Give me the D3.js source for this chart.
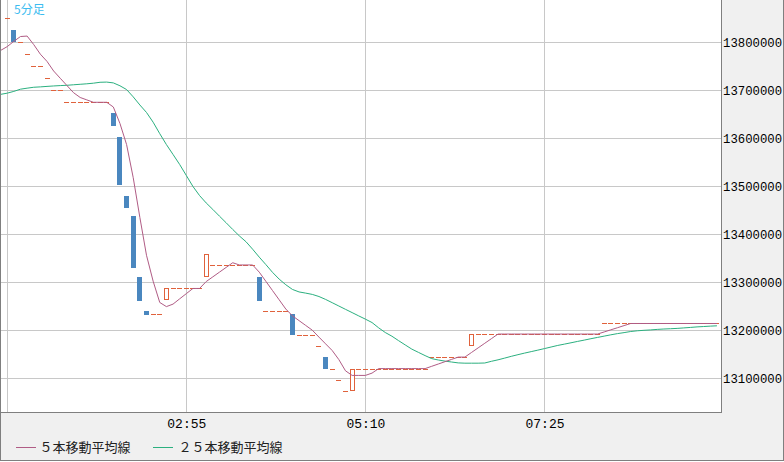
<!DOCTYPE html>
<html><head><meta charset="utf-8">
<script src="https://cdn.jsdelivr.net/npm/d3@7"></script>
<style>html,body{margin:0;padding:0;background:#fff;} svg{display:block;}</style>
</head><body><svg id="chart" width="784" height="462"></svg>
<script>
// ---------- data ----------
const titleText = "5分足";
const startTime = "00:40";      // time of first candle
const stepMinutes = 5;
const maStartTime = "00:35";    // moving averages start one bar earlier
const timeTicks = ["00:40", "02:55", "05:10", "07:25"];
const timeLabels = ["02:55", "05:10", "07:25"];
const priceTicks = [13100000, 13200000, 13300000, 13400000, 13500000, 13600000, 13700000, 13800000];
const legendLabels = ["５本移動平均線", "２５本移動平均線"];

const opens = [
13850000,13826000,13800000,13776000,13750000,13750000,13725000,13700000,13700000,13675000,
13675000,13675000,13675000,13675000,13675000,13675000,13652000,13603000,13479000,13438000,
13311000,13240000,13233000,13233000,13262000,13287000,13287000,13287000,13287000,13287000,
13310000,13336000,13336000,13336000,13336000,13336000,13336000,13336000,13311000,13240000,
13240000,13240000,13240000,13234000,13190000,13190000,13190000,13168000,13144000,13120000,
13096000,13073000,13073000,13120000,13120000,13120000,13120000,13120000,13120000,13120000,
13120000,13120000,13120000,13120000,13144000,13144000,13144000,13144000,13144000,13144000,
13168000,13192000,13192000,13192000,13192000,13192000,13192000,13192000,13192000,13192000,
13192000,13192000,13192000,13192000,13192000,13192000,13192000,13192000,13192000,13192000,
13214000,13214000,13214000,13214000,13214000,13214000,13214000,13214000,13214000,13214000,
13214000,13214000,13214000,13214000,13214000,13214000,13214000,13214000];

const closes = [
13850000,13800000,13800000,13776000,13750000,13750000,13725000,13700000,13700000,13675000,
13675000,13675000,13675000,13675000,13675000,13675000,13626000,13503000,13455000,13330000,
13261000,13232000,13233000,13233000,13287000,13287000,13287000,13287000,13287000,13287000,
13359000,13336000,13336000,13336000,13336000,13336000,13336000,13336000,13261000,13240000,
13240000,13240000,13240000,13190000,13190000,13190000,13190000,13168000,13120000,13120000,
13096000,13073000,13120000,13120000,13120000,13120000,13120000,13120000,13120000,13120000,
13120000,13120000,13120000,13120000,13144000,13144000,13144000,13144000,13144000,13144000,
13192000,13192000,13192000,13192000,13192000,13192000,13192000,13192000,13192000,13192000,
13192000,13192000,13192000,13192000,13192000,13192000,13192000,13192000,13192000,13192000,
13214000,13214000,13214000,13214000,13214000,13214000,13214000,13214000,13214000,13214000,
13214000,13214000,13214000,13214000,13214000,13214000,13214000,13214000];

const ma5 = [
13783000,13791000,13802000,13812000,13813000,13795200,13775200,13760200,13740200,13725000,
13710000,13695000,13685000,13680000,13675000,13675000,13675000,13665200,13630800,13586800,
13517800,13435000,13356200,13302200,13257800,13249200,13254400,13265400,13276200,13287000,
13287000,13301400,13311200,13321000,13330800,13340600,13336000,13336000,13336000,13321000,
13301800,13282600,13263400,13244200,13230000,13220000,13210000,13200000,13185600,13171600,
13157600,13138800,13115400,13105800,13105800,13105800,13110600,13120000,13120000,13120000,
13120000,13120000,13120000,13120000,13120000,13124800,13129600,13134400,13139200,13144000,
13144000,13153600,13163200,13172800,13182400,13192000,13192000,13192000,13192000,13192000,
13192000,13192000,13192000,13192000,13192000,13192000,13192000,13192000,13192000,13192000,
13192000,13196400,13200800,13205200,13209600,13214000,13214000,13214000,13214000,13214000,
13214000,13214000,13214000,13214000,13214000,13214000,13214000,13214000,13214000];

const ma25 = [
13691500,13694000,13697700,13702300,13704400,13706300,13707100,13708100,13709000,13709800,
13710400,13711500,13712500,13713500,13714800,13716700,13717100,13715400,13709400,13701500,
13686300,13669400,13653800,13633500,13609600,13586900,13566300,13545400,13522500,13499600,
13480600,13465200,13451700,13437700,13424000,13410000,13396500,13384400,13368800,13352300,
13336700,13320600,13306500,13294800,13285000,13279800,13277300,13274600,13270200,13264200,
13257300,13250400,13243500,13236700,13229800,13223100,13216000,13205000,13195200,13187500,
13178300,13169400,13160600,13153800,13147100,13140800,13137900,13135600,13133700,13131900,
13131300,13131300,13131300,13131700,13135200,13138300,13141900,13145600,13149000,13152300,
13155400,13158500,13161700,13165000,13168300,13171000,13173800,13176700,13179400,13182300,
13185000,13187700,13190400,13192900,13195000,13197300,13198800,13199800,13200600,13201700,
13202500,13203100,13203800,13204800,13205800,13206900,13207700,13208500,13209200];

// ---------- layout / style ----------
const W = 784, H = 462;
const plotW = 721, plotH = 412;
const col = {
  grid: "#c8c8c8", border: "#7f7f7f", panel: "#f0f0f0",
  bear: "#4a87bf", bull: "#e0623c", ma5: "#b05c85", ma25: "#2bb07f", title: "#3cbcf0"
};

const parseHM = d3.timeParse("%H:%M");
const parseHMS = d3.timeParse("%H:%M:%S");
const barTime = i => d3.timeMinute.offset(parseHM(startTime), i * stepMinutes);
const maTime = k => d3.timeMinute.offset(parseHM(maStartTime), k * stepMinutes);

const x = d3.scaleTime()
  .domain([parseHMS("00:34:34"), parseHMS("09:38:04")])
  .range([0, plotW]);
const y = d3.scaleLinear()
  .domain([13100000, 13800000])
  .range([378.2, 42.3]);

const svg = d3.select("#chart");
svg.append("rect").attr("width", W).attr("height", H).attr("fill", "#fff");

// panels
svg.append("rect").attr("x", plotW + 1).attr("y", 0).attr("width", W - plotW - 1).attr("height", plotH + 1).attr("fill", col.panel);
svg.append("rect").attr("x", 0).attr("y", plotH + 1).attr("width", W).attr("height", 460 - plotH - 1).attr("fill", col.panel);

svg.append("defs").append("clipPath").attr("id", "clip")
  .append("rect").attr("x", 1).attr("y", 0).attr("width", plotW - 1).attr("height", plotH);

// grid
const grid = svg.append("g");
grid.selectAll("line.h").data(priceTicks).join("line").attr("class", "h")
  .attr("x1", 0).attr("x2", plotW)
  .attr("y1", d => Math.round(y(d)) + 0.5).attr("y2", d => Math.round(y(d)) + 0.5)
  .attr("stroke", col.grid).attr("stroke-width", 1);
grid.selectAll("line.v").data(timeTicks).join("line").attr("class", "v")
  .attr("y1", 0).attr("y2", plotH)
  .attr("x1", d => Math.round(x(parseHM(d))) + 0.5).attr("x2", d => Math.round(x(parseHM(d))) + 0.5)
  .attr("stroke", col.grid).attr("stroke-width", 1);

// candles
const bars = opens.map((o, i) => ({ o, c: closes[i], t: barTime(i) }));
const cg = svg.append("g").attr("clip-path", "url(#clip)");
const left = d => Math.round(x(d.t) - 2.5);

cg.selectAll("line.doji").data(bars.filter(d => d.o === d.c)).join("line").attr("class", "doji")
  .attr("x1", left).attr("x2", d => left(d) + 5)
  .attr("y1", d => Math.round(y(d.c)) + 0.5).attr("y2", d => Math.round(y(d.c)) + 0.5)
  .attr("stroke", col.bull).attr("stroke-width", 1);

cg.selectAll("rect.bear").data(bars.filter(d => d.c < d.o)).join("rect").attr("class", "bear")
  .attr("x", left).attr("width", 5)
  .attr("y", d => Math.round(y(d.o)))
  .attr("height", d => Math.max(1, Math.round(y(d.c)) - Math.round(y(d.o))))
  .attr("fill", col.bear);

cg.selectAll("rect.bull").data(bars.filter(d => d.c > d.o)).join("rect").attr("class", "bull")
  .attr("x", d => left(d) + 0.5).attr("width", 4)
  .attr("y", d => Math.round(y(d.c)) + 0.5)
  .attr("height", d => Math.max(1, Math.round(y(d.o)) - Math.round(y(d.c)) - 1))
  .attr("fill", "#fff").attr("stroke", col.bull).attr("stroke-width", 1);

// moving averages
const line = d3.line().x((d, k) => x(maTime(k))).y(d => y(d));
cg.append("path").datum(ma25).attr("d", line).attr("fill", "none").attr("stroke", col.ma25).attr("stroke-width", 1);
cg.append("path").datum(ma5).attr("d", line).attr("fill", "none").attr("stroke", col.ma5).attr("stroke-width", 1);

// borders
const bd = svg.append("g").attr("stroke", col.border).attr("stroke-width", 1);
bd.append("line").attr("x1", plotW + 0.5).attr("x2", plotW + 0.5).attr("y1", 0).attr("y2", plotH + 1);
bd.append("line").attr("x1", 0).attr("x2", plotW + 1).attr("y1", plotH + 0.5).attr("y2", plotH + 0.5);
bd.append("line").attr("x1", 0.5).attr("x2", 0.5).attr("y1", 0).attr("y2", 461);
bd.append("line").attr("x1", W - 0.5).attr("x2", W - 0.5).attr("y1", 0).attr("y2", 461);
bd.append("line").attr("x1", 0).attr("x2", W).attr("y1", 460.5).attr("y2", 460.5);

// axes
const axisFont = "'Liberation Mono', 'DejaVu Sans Mono', monospace";
const yAxis = d3.axisRight(y).tickValues(priceTicks).tickSize(0).tickPadding(0).tickFormat(d3.format("d"));
const ya = svg.append("g").attr("transform", `translate(${plotW + 2},0)`).call(yAxis);
ya.select(".domain").remove();
ya.selectAll("text").attr("font-family", axisFont).attr("font-size", 12.3).attr("fill", "#000");

const xAxis = d3.axisBottom(x).tickValues(timeLabels.map(parseHM)).tickSize(0).tickPadding(0)
  .tickFormat(d3.timeFormat("%H:%M"));
const xa = svg.append("g").attr("transform", `translate(0,${plotH + 7})`).call(xAxis);
xa.select(".domain").remove();
xa.selectAll("text").attr("font-family", axisFont).attr("font-size", 13).attr("fill", "#000");

// title
svg.append("text").attr("x", 14).attr("y", 14).text(titleText)
  .attr("font-family", "'Noto Sans CJK JP', sans-serif").attr("font-size", 12).attr("fill", col.title);

// legend
const legendItems = [
  { label: legendLabels[0], color: col.ma5, lx: 16, tx: 39.5 },
  { label: legendLabels[1], color: col.ma25, lx: 153, tx: 178.5 }
];
const lg = svg.append("g");
legendItems.forEach(it => {
  lg.append("line").attr("x1", it.lx).attr("x2", it.lx + 20).attr("y1", 447.5).attr("y2", 447.5)
    .attr("stroke", it.color).attr("stroke-width", 1);
  lg.append("text").attr("x", it.tx).attr("y", 452).text(it.label)
    .attr("font-family", "'Noto Sans CJK JP', sans-serif").attr("font-size", 13).attr("fill", "#222");
});
</script></body></html>
